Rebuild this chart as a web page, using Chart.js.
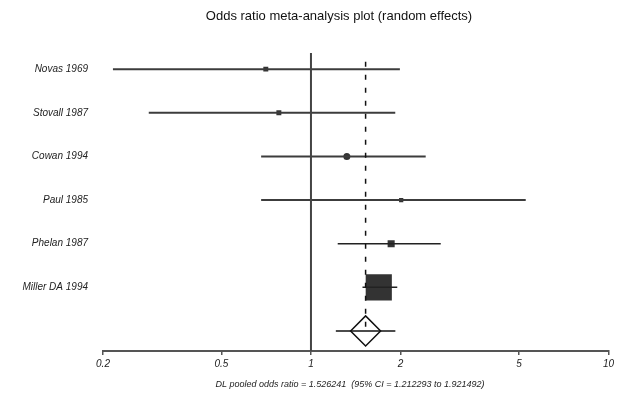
<!DOCTYPE html>
<html>
<head>
<meta charset="utf-8">
<script src="https://cdn.jsdelivr.net/npm/chart.js@4.4.0/dist/chart.umd.min.js"></script>
<style>
  html, body { margin: 0; padding: 0; background: #fff; }
  #wrap { width: 627px; height: 396px; }
</style>
</head>
<body>
<div id="wrap"><canvas id="forest"></canvas></div>
<script>
// study rows, top to bottom
const studies = ['Novas 1969', 'Stovall 1987', 'Cowan 1994', 'Paul 1985', 'Phelan 1987', 'Miller DA 1994'];
const oddsRatio = [0.705, 0.78, 1.32, 2.01, 1.86, 1.69];
const lowerCI = [0.216, 0.285, 0.68, 0.68, 1.23, 1.49];
const upperCI = [1.99, 1.92, 2.43, 5.27, 2.73, 1.95];

// DerSimonian-Laird pooled estimate
const pooledOR = 1.526241;
const pooledLower = 1.212293;
const pooledUpper = 1.921492;

const xTicks = [0.2, 0.5, 1, 2, 5, 10];

const titleText = 'Odds ratio meta-analysis plot (random effects)';
const captionText = 'DL pooled odds ratio = ' + pooledOR + '  (95% CI = ' + pooledLower + ' to ' + pooledUpper + ')';
const font = "'Liberation Sans', Arial, sans-serif";

// row positions: first study at the top, pooled row at 1
const rowY = studies.map((s, i) => studies.length + 1 - i);
const pooledY = 1;
const yMin = 0.54, yMax = 7.37;

const datasets = [];

// no-effect line at OR = 1
datasets.push({
    type: 'line',
    data: [{x: 1, y: yMin}, {x: 1, y: yMax}],
    borderColor: '#444', borderWidth: 2, pointRadius: 0
});

// dashed line through the pooled estimate
datasets.push({
    type: 'line',
    data: [{x: pooledOR, y: yMax - 0.2}, {x: pooledOR, y: pooledY}],
    borderColor: '#111', borderWidth: 1.5, borderDash: [5, 8], pointRadius: 0
});

// confidence interval bars
for (let i = 0; i < studies.length; i++) {
    datasets.push({
        type: 'line',
        data: [{x: lowerCI[i], y: rowY[i]}, {x: upperCI[i], y: rowY[i]}],
        borderColor: i < 4 ? '#3c3c3c' : '#222',
        borderWidth: i < 4 ? 2 : 1.5,
        pointRadius: 0
    });
}

// study estimates
datasets.push({
    type: 'scatter',
    data: studies.map((s, i) => ({x: oddsRatio[i], y: rowY[i]})),
    pointStyle: ['rect', 'rect', 'circle', 'rect', 'rect', 'rect'],
    pointRadius: [3.5, 3.5, 3.5, 3, 5, 18.5],
    backgroundColor: '#333',
    borderColor: '#333',
    borderWidth: 0
});

// pooled CI and diamond
datasets.push({
    type: 'line',
    data: [{x: pooledLower, y: pooledY}, {x: pooledUpper, y: pooledY}],
    borderColor: '#111', borderWidth: 1.5, pointRadius: 0
});
datasets.push({
    type: 'scatter',
    data: [{x: pooledOR, y: pooledY}],
    pointStyle: 'rectRot',
    pointRadius: 15,
    backgroundColor: 'rgba(255,255,255,0)',
    borderColor: '#111',
    borderWidth: 1.5
});

// title and pooled caption, placed by hand
const textPlugin = {
    id: 'plotText',
    afterDraw(chart) {
        const c = chart.ctx;
        c.save();
        c.textAlign = 'center';
        c.textBaseline = 'middle';
        c.fillStyle = '#111';
        c.font = '13px ' + font;
        c.fillText(titleText, 339, 16);
        c.fillStyle = '#222';
        c.font = 'italic 9px ' + font;
        c.fillText(captionText, 350, 384);
        c.restore();
    }
};

const ctx = document.getElementById('forest').getContext('2d');
const chart = new Chart(ctx, {
    type: 'scatter',
    data: { datasets: datasets },
    plugins: [textPlugin],
    options: {
        responsive: true,
        maintainAspectRatio: false,
        animation: false,
        layout: { padding: { left: 0, right: 15, top: 53, bottom: 0 } },
        plugins: {
            legend: { display: false },
            tooltip: { enabled: false },
            title: { display: false }
        },
        scales: {
            x: {
                type: 'logarithmic',
                position: 'bottom',
                min: 0.2,
                max: 10,
                afterBuildTicks: (scale) => { scale.ticks = xTicks.map(v => ({value: v})); },
                afterFit: (scale) => { scale.height = 45; },
                ticks: {
                    autoSkip: false,
                    maxRotation: 0,
                    padding: 3,
                    color: '#222',
                    font: { family: font, size: 10, style: 'italic' },
                    callback: (v) => String(v)
                },
                grid: { drawOnChartArea: false, tickLength: 4, color: '#555', lineWidth: 1.5 },
                border: { color: '#555', width: 2 }
            },
            y: {
                type: 'linear',
                min: yMin,
                max: yMax,
                afterBuildTicks: (scale) => { scale.ticks = rowY.map(v => ({value: v})); },
                afterFit: (scale) => { scale.width = 103; },
                ticks: {
                    autoSkip: false,
                    padding: 15,
                    color: '#222',
                    font: { family: font, size: 10, style: 'italic' },
                    callback: (v) => studies[rowY.indexOf(v)]
                },
                grid: { display: false, drawTicks: false },
                border: { display: false }
            }
        }
    }
});
</script>
</body>
</html>
